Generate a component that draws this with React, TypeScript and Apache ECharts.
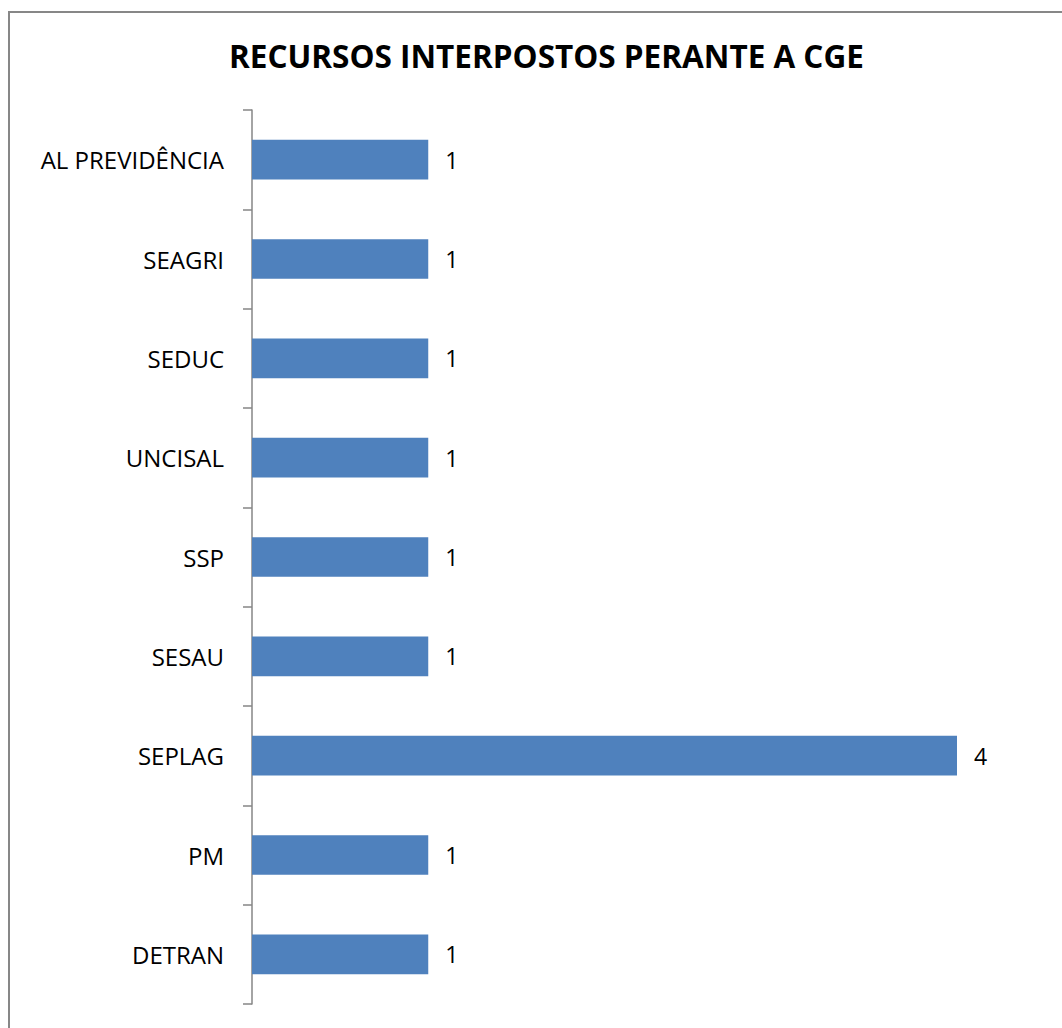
import React, { useEffect, useRef } from "react";
import * as echarts from "echarts";

const categories = ["DETRAN", "PM", "SEPLAG", "SESAU", "SSP", "UNCISAL", "SEDUC", "SEAGRI", "AL PREVIDÊNCIA"];
const values = [1, 1, 4, 1, 1, 1, 1, 1, 1];
const titleText = "RECURSOS INTERPOSTOS PERANTE A CGE";

const FONT = "'Open Sans', Lato, sans-serif";

export default function App() {
  const ref = useRef<HTMLDivElement>(null);
  useEffect(() => {
    if (!ref.current) return;
    const chart = echarts.init(ref.current, null, { renderer: "svg" });
    chart.setOption({
      animation: false,
      backgroundColor: "#ffffff",
      title: {
        text: titleText,
        left: 224,
        top: 34,
        textStyle: { fontFamily: FONT, fontWeight: "bold", fontSize: 31.5, color: "#000" },
      },
      graphic: [
        {
          type: "rect",
          shape: { x: 9, y: 12, width: 1200, height: 1200 },
          style: { fill: "none", stroke: "#878787", lineWidth: 2 },
          silent: true,
        },
      ],
      grid: { left: 252, right: 105, top: 110, bottom: 24, containLabel: false },
      xAxis: {
        type: "value",
        min: 0,
        max: 4,
        show: false,
      },
      yAxis: {
        type: "category",
        data: categories,
        axisLine: { show: true, lineStyle: { color: "#868686", width: 1.5 } },
        axisTick: { show: true, length: 9, lineStyle: { color: "#868686", width: 1.5 } },
        axisLabel: { margin: 28, fontFamily: FONT, fontSize: 24, color: "#000" },
        splitLine: { show: false },
      },
      series: [
        {
          type: "bar",
          data: values,
          barCategoryGap: "60%",
          itemStyle: { color: "#4f81bd" },
          label: {
            show: true,
            position: "right",
            distance: 17,
            fontFamily: FONT,
            fontSize: 23,
            color: "#000",
          },
        },
      ],
    });
    return () => chart.dispose();
  }, []);
  return (
    <div
      ref={ref}
      style={{ position: "absolute", left: 0, top: 0, width: 1062, height: 1028 }}
    />
  );
}
